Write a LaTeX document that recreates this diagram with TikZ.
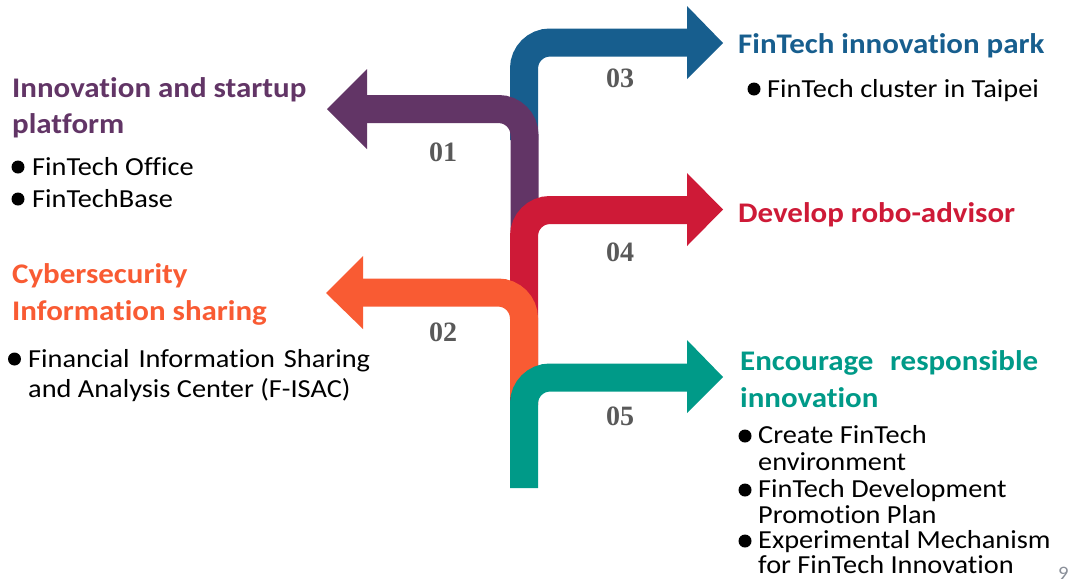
\documentclass[tikz,border=0pt]{standalone}
\usepackage{fontspec}
\setmainfont[FakeStretch=1.09, Ligatures=NoCommon]{Carlito}
\newfontfamily\numfont{Liberation Serif}
\definecolor{cpur}{HTML}{623566}
\definecolor{cblue}{HTML}{175E8E}
\definecolor{cred}{HTML}{CE1A37}
\definecolor{corg}{HTML}{F95B33}
\definecolor{cteal}{HTML}{009A88}
\definecolor{cnum}{HTML}{595959}
\definecolor{cpage}{HTML}{8A8F99}
\begin{document}
\begin{tikzpicture}[x=1pt,y=-1pt,
  arr/.style={line width=28pt, rounded corners=26pt},
  num/.style={font=\numfont\bfseries\fontsize{28}{30}\selectfont, text=cnum, inner sep=0pt},
  headtxt/.style={font=\bfseries\fontsize{28.4}{32}\selectfont, anchor=base west, inner sep=0pt},
  body/.style={font=\fontsize{26}{30}\selectfont, anchor=base west, inner sep=0pt},
  bul/.style={circle, fill=black, minimum size=13pt, inner sep=0pt}]
\useasboundingbox (0,0) rectangle (1075,582);
\fill[white] (0,0) rectangle (1075,582);
% arrow 03
\draw[arr, cblue] (524,140) -- (524,42.5) -- (690,42.5);
\fill[cblue] (687,6) -- (723,43) -- (687,79) -- cycle;
% arrow 01
\draw[arr, cpur] (524.5,232) -- (524.5,109) -- (364,109);
\fill[cpur] (367,69) -- (327,109) -- (367,149) -- cycle;
% arrow 04
\draw[arr, cred] (524,405) -- (524,210) -- (690,210);
\fill[cred] (687,173) -- (723,209.5) -- (687,246) -- cycle;
% arrow 02
\draw[arr, corg] (524,397) -- (524,292.5) -- (360,292.5);
\fill[corg] (363,256) -- (326,293) -- (363,329) -- cycle;
% arrow 05
\draw[arr, cteal] (524,488) -- (524,377.5) -- (690,377.5);
\fill[cteal] (687,340) -- (723,377) -- (687,413) -- cycle;
% numbers
\node[num] (n01) at (443,152) {01};
\node[num] (n02) at (443,332) {02};
\node[num] (n03) at (620,78) {03};
\node[num] (n04) at (620,252) {04};
\node[num] (n05) at (620,416) {05};
% left top
\node[headtxt, text=cpur] (h1a) at (12,97) {Innovation and startup};
\node[headtxt, text=cpur] (h1b) at (12,133) {platform};
\node[bul] (b1a) at (18,167) {};
\node[body] (t1a) at (32,175) {FinTech Office};
\node[bul] (b1b) at (18,199) {};
\node[body] (t1b) at (32,207) {FinTechBase};
% left bottom
\node[headtxt, text=corg] (h2a) at (12,283) {Cybersecurity};
\node[headtxt, text=corg] (h2b) at (12,320) {Information sharing};
\node[bul] (b2a) at (14.5,359) {};
\node[body] (t2a) at (28,367) {\makebox[342pt][s]{Financial Information Sharing}};
\node[body] (t2b) at (28,397) {and Analysis Center (F-ISAC)};
% right top
\node[headtxt, text=cblue] (h3a) at (738,53) {FinTech innovation park};
\node[bul] (b3a) at (754,89) {};
\node[body] (t3a) at (767,97) {FinTech cluster in Taipei};
% right middle
\node[headtxt, text=cred] (h4a) at (738,222) {Develop robo-advisor};
% right bottom
\node[headtxt, text=cteal] (h5a) at (740,370) {\makebox[298pt][s]{Encourage responsible}};
\node[headtxt, text=cteal] (h5b) at (740,407) {innovation};
\node[bul] (b5a) at (745,436) {};
\node[body] (t5a) at (758,443) {Create FinTech};
\node[body] (t5b) at (758,470) {environment};
\node[bul] (b5b) at (745,490) {};
\node[body] (t5c) at (758,497) {FinTech Development};
\node[body] (t5d) at (758,523) {Promotion Plan};
\node[bul] (b5c) at (745,541) {};
\node[body] (t5e) at (758,548) {Experimental Mechanism};
\node[body] (t5f) at (758,573) {for FinTech Innovation};
% page number
\node[font=\fontsize{19}{22}\selectfont, text=cpage, anchor=base west, inner sep=0pt] (pg) at (1058,579) {9};
\end{tikzpicture}
\end{document}
